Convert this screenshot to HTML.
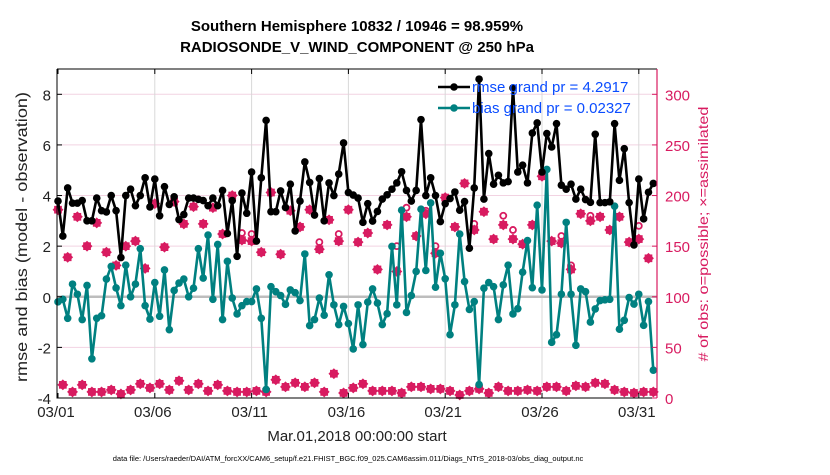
<!DOCTYPE html>
<html><head><meta charset="utf-8"><style>
body{margin:0;background:#fff;width:830px;height:470px;overflow:hidden;font-family:"Liberation Sans",sans-serif}
</style></head><body>
<svg id="chart" width="830" height="470" xmlns="http://www.w3.org/2000/svg" font-family="Liberation Sans, sans-serif"></svg>
<script>
const dayLabels=["03/01","03/06","03/11","03/16","03/21","03/26","03/31"];
const dayTicks=[0,5,10,15,20,25,30];
const leftTicks=[-4,-2,0,2,4,6,8];
const rightTicks=[0,50,100,150,200,250,300];
const rmse=[3.78,2.4,4.3,3.7,3.7,3.8,3.0,3.0,3.9,3.4,3.35,4.0,3.4,1.55,4.0,4.25,3.6,4.0,4.7,3.55,4.65,3.2,4.35,3.65,3.95,3.05,3.25,3.9,3.9,3.85,3.8,3.6,
3.9,3.6,4.2,2.5,3.8,1.6,4.1,3.3,4.93,2.2,4.7,6.97,3.36,3.36,4.18,3.53,4.45,2.6,3.78,5.33,4.52,3.23,4.67,3.0,4.5,4.0,4.85,6.08,4.12,4.02,3.9,
2.94,3.68,2.99,3.37,3.86,4.03,4.25,4.5,4.94,4.2,3.78,4.2,7.0,4.0,4.7,4.0,2.97,3.68,3.88,4.14,3.42,3.76,1.92,4.3,8.6,3.86,5.66,4.45,4.8,4.5,4.55,
8.25,4.93,5.2,4.5,6.47,6.87,4.93,6.45,5.92,6.84,4.41,4.25,4.45,3.86,4.25,3.84,3.73,6.42,3.72,3.72,3.75,6.84,4.6,5.85,3.72,2.05,4.65,3.08,4.13,4.48];
const bias=[-0.2,-0.1,-0.85,0.5,0.1,-0.9,0.45,-2.45,-0.85,-0.75,0.7,1.2,0.35,-0.35,1.25,0,0.5,1.9,-0.35,-0.88,0.56,-0.77,1.06,-1.3,0.25,0.54,0.7,0.0,0.34,1.9,0.74,2.44,
-0.1,2.07,-0.9,1.4,-0.05,-0.68,-0.35,-0.19,-0.19,0.31,-0.85,-3.66,0.4,0.2,0.05,-0.3,0.27,0.16,-0.15,1.69,-1.14,-0.9,-0.05,-0.73,0.87,-0.32,-1.1,-0.38,-1.06,-2.06,-0.32,
-1.89,-0.21,0.31,-0.25,-1.1,-0.67,1.99,-0.32,3.42,-0.62,0.05,1.0,3.46,1.04,3.71,0.38,1.72,0.71,-1.5,-0.32,2.48,0.6,-0.5,-0.19,-3.47,0.34,0.56,0.4,-0.9,0.47,1.25,
-0.68,-0.47,0.97,2.22,0.36,3.62,0.27,5.03,-1.8,-1.5,0.1,2.94,0.1,-1.92,0.31,0.2,-1.0,-0.48,-0.15,-0.12,-0.1,3.58,-1.28,-0.93,-0.03,-0.29,0.1,-1.13,-0.19,-2.9];
const obsUsed=[186,13,139,6,179,13,150,6,173,6,144,8,131,4,150,8,155,14,128,10,192,14,149,8,194,17,172,8,189,14,172,7,
188,13,162,7,200,6,156,6,155,7,144,6,203,18,142,11,185,15,169,11,186,15,147,6,176,24,155,5,186,10,
154,14,163,7,127,7,171,7,125,5,179,11,160,11,182,9,143,9,198,7,169,3,212,7,166,9,184,5,157,11,171,7,
157,7,152,8,171,7,219,11,155,11,153,7,127,12,182,11,175,15,179,14,166,8,179,6,154,5,157,6,138,6];
const obsPossible=obsUsed.slice();
const circIdx=[38,40,54,58,70,72,76,78,86,92,94,104,106,110,120];
const circVals=[163,162,154,162,150,188,185,150,172,180,166,160,131,180,170];
circIdx.forEach((k,j)=>obsPossible[k]=circVals[j]);

const NS="http://www.w3.org/2000/svg";
const svg=document.getElementById('chart');
const L=57,R=657,T=69,B=398;
const xS=d=>58+d*19.36;
const yL=v=>B-(v+4)*(B-T)/13;
const yR=v=>B-v*(B-T)/325;
function el(tag,attrs,parent){const e=document.createElementNS(NS,tag);for(const k in attrs)e.setAttribute(k,attrs[k]);(parent||svg).appendChild(e);return e;}

leftTicks.forEach(v=>{if(v!==0&&v!==-4){const g=el('line',{x1:L,x2:R,y1:yL(v),y2:yL(v),stroke:'#f2d3e2','stroke-width':1});

}});
dayTicks.forEach(d=>{if(d>0){const g=el('line',{x1:xS(d),x2:xS(d),y1:T,y2:B,stroke:'#d8d8d8','stroke-width':1});

}});
const zl=el('line',{x1:L,x2:R,y1:yL(0),y2:yL(0),stroke:'#bdbdbd','stroke-width':2.5});



function star(cx,cy,s,fill,name){
  const g=el('g',{});
  
  
  el('rect',{x:cx-s*0.7,y:cy-s*0.7,width:s*1.4,height:s*1.4,fill:fill},g);
  el('rect',{x:cx-s*0.7,y:cy-s*0.7,width:s*1.4,height:s*1.4,fill:fill,transform:`rotate(45 ${cx} ${cy})`},g);
}
obsPossible.forEach((v,i)=>{if(v!==obsUsed[i]){const c=el('circle',{cx:xS(i*0.25),cy:yR(v),r:3,fill:'none',stroke:'#d81b60','stroke-width':1.8});

}});
obsUsed.forEach((v,i)=>star(xS(i*0.25),yR(v),5.5,'#d81b60','obs-assimilated-marker'));

function series(arr,color,name){
  const pts=arr.map((v,i)=>xS(i*0.25).toFixed(1)+','+yL(v).toFixed(1)).join(' ');
  const p=el('polyline',{points:pts,fill:'none',stroke:color,'stroke-width':2.6,'stroke-linejoin':'round'});
  
  
  arr.forEach((v,i)=>{const c=el('circle',{cx:xS(i*0.25),cy:yL(v),r:3.8,fill:color});
  
  });
}
series(bias,'#008080','bias');
series(rmse,'#000000','rmse');

const ax=el('path',{d:`M${L},${T}H${R}M${L},${T}V${B}H${R}`,stroke:'#000','stroke-width':1,fill:'none'});


const ra=el('line',{x1:R,x2:R,y1:T,y2:B,stroke:'#d81b60','stroke-width':1.2});


leftTicks.forEach(v=>{el('line',{x1:L,x2:L+5,y1:yL(v),y2:yL(v),stroke:'#000'});
const t=el('text',{x:L-6,y:yL(v)+6,'text-anchor':'end','font-size':15,fill:'#222'});t.textContent=v;

});
rightTicks.forEach(v=>{el('line',{x1:R-5,x2:R,y1:yR(v),y2:yR(v),stroke:'#d81b60'});
const t=el('text',{x:R+8,y:yR(v)+6,'font-size':15,fill:'#d81b60'});t.textContent=v;

});
dayTicks.forEach((d,k)=>{el('line',{x1:xS(d),x2:xS(d),y1:B,y2:B-5,stroke:'#000'});el('line',{x1:xS(d),x2:xS(d),y1:T,y2:T+5,stroke:'#000'});
const t=el('text',{x:xS(d)-2,y:B+19,'text-anchor':'middle','font-size':15,fill:'#222'});t.textContent=dayLabels[k];

});
</script>
<svg style="position:absolute;left:0;top:0" width="830" height="470" font-family="Liberation Sans, sans-serif">
<text x="357" y="31" text-anchor="middle" font-size="15" font-weight="bold" fill="#000">Southern Hemisphere 10832 / 10946 = 98.959%</text>
<text x="357" y="52" text-anchor="middle" font-size="15" font-weight="bold" fill="#000">RADIOSONDE_V_WIND_COMPONENT @ 250 hPa</text>
<text transform="translate(27,237) rotate(-90)" text-anchor="middle" font-size="16" textLength="290" lengthAdjust="spacingAndGlyphs" fill="#222">rmse and bias (model - observation)</text>
<text transform="translate(708,234) rotate(-90)" text-anchor="middle" font-size="14" textLength="255" lengthAdjust="spacingAndGlyphs" fill="#d81b60"># of obs: o=possible; ×=assimilated</text>
<text x="357" y="441" text-anchor="middle" font-size="15" fill="#222">Mar.01,2018 00:00:00 start</text>
<text x="348" y="461" text-anchor="middle" font-size="7.5" fill="#000">data file: /Users/raeder/DAI/ATM_forcXX/CAM6_setup/f.e21.FHIST_BGC.f09_025.CAM6assim.011/Diags_NTrS_2018-03/obs_diag_output.nc</text>
<g>
<line x1="438" x2="470" y1="87" y2="87" stroke="#000" stroke-width="2.6"/><circle cx="454" cy="87" r="3.8" fill="#000"/>
<text x="472" y="92" font-size="15" fill="#0a4cff">rmse grand pr = 4.2917</text>
<line x1="438" x2="470" y1="108" y2="108" stroke="#008080" stroke-width="2.6"/><circle cx="454" cy="108" r="3.8" fill="#008080"/>
<text x="472" y="113" font-size="15" fill="#0a4cff">bias grand pr = 0.02327</text>
</g>
</svg>
</body></html>
